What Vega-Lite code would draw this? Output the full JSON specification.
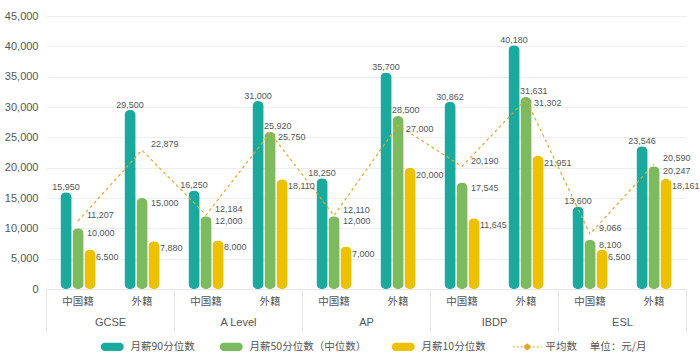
{
  "$schema": "https://vega.github.io/schema/vega-lite/v6.json",
  "width": 640,
  "height": 273,
  "autosize": {"type": "none"},
  "padding": {"left": 46, "top": 16, "right": 14, "bottom": 70},
  "background": "white",
  "config": {
    "font": "'Liberation Sans', 'Noto Sans CJK SC'",
    "numberFormat": ",d",
    "view": {"stroke": null},
    "text": {"font": "'Liberation Sans', 'Noto Sans CJK SC'", "fontSize": 9, "color": "#555555"},
    "axisY": {
      "title": null, "tickCount": 10, "domain": false, "ticks": false, "labelPadding": 8,
      "gridColor": "#eeeeee", "labelColor": "#555555", "labelFontSize": 11
    }
  },
  "data": {
    "values": [
      {"group": "GCSE", "key": "GCSE 中国籍", "p90": 15950, "p50": 10000, "p10": 6500, "avg": 11207},
      {"group": "GCSE", "key": "GCSE 外籍", "p90": 29500, "p50": 15000, "p10": 7880, "avg": 22879},
      {"group": "A Level", "key": "A Level 中国籍", "p90": 16250, "p50": 12000, "p10": 8000, "avg": 12184},
      {"group": "A Level", "key": "A Level 外籍", "p90": 31000, "p50": 25920, "p10": 18110, "avg": 25750},
      {"group": "AP", "key": "AP 中国籍", "p90": 18250, "p50": 12000, "p10": 7000, "avg": 12110},
      {"group": "AP", "key": "AP 外籍", "p90": 35700, "p50": 28500, "p10": 20000, "avg": 27000},
      {"group": "IBDP", "key": "IBDP 中国籍", "p90": 30862, "p50": 17545, "p10": 11645, "avg": 20190},
      {"group": "IBDP", "key": "IBDP 外籍", "p90": 40180, "p50": 31631, "p10": 21951, "avg": 31302},
      {"group": "ESL", "key": "ESL 中国籍", "p90": 13600, "p50": 8100, "p10": 6500, "avg": 9066},
      {"group": "ESL", "key": "ESL 外籍", "p90": 23546, "p50": 20247, "p10": 18161, "avg": 20590}
    ]
  },
  "resolve": {"scale": {"x": "independent"}, "axis": {"x": "independent"}},
  "layer": [
    {
      "mark": {"type": "rule", "opacity": 0},
      "encoding": {
        "x": {
          "field": "group", "type": "nominal", "sort": null,
          "scale": {"paddingInner": 0, "paddingOuter": 0},
          "axis": {
            "orient": "bottom", "title": null, "tickBand": "extent", "tickSize": 43,
            "tickColor": "#e6e6e6", "domainColor": "#e6e6e6", "labelPadding": -16,
            "labelAngle": 0, "labelColor": "#555555", "labelFontSize": 11, "grid": false
          }
        }
      }
    },
    {
      "layer": [
        {
          "transform": [{"fold": ["p90", "p50", "p10"], "as": ["series", "value"]}],
          "mark": {"type": "bar", "cornerRadius": 5.5},
          "encoding": {
            "x": {
              "field": "key", "type": "nominal", "sort": null,
              "scale": {"paddingInner": 0.45, "paddingOuter": 0.225},
              "axis": {
                "orient": "bottom", "title": null,
                "labelExpr": "indexof(datum.label, '中国籍') >= 0 ? '中国籍' : '外籍'",
                "ticks": false, "domain": false, "labelPadding": 7, "labelAngle": 0,
                "labelColor": "#555555", "labelFontSize": 10.5, "grid": false
              }
            },
            "xOffset": {"field": "series", "scale": {"domain": ["p90", "p50", "p10"], "paddingInner": 0.06}},
            "y": {"field": "value", "type": "quantitative", "scale": {"domain": [0, 45000]}},
            "color": {
              "field": "series", "type": "nominal",
              "scale": {"domain": ["p90", "p50", "p10", "avg"], "range": ["#19aa9e", "#7cb95f", "#ecc104", "#dfab2c"]},
              "legend": {
                "orient": "none", "legendX": 61, "legendY": 325.5, "padding": 0,
                "direction": "horizontal", "title": null,
                "labelExpr": "datum.value == 'p90' ? '月薪90分位数' : datum.value == 'p50' ? '月薪50分位数（中位数）' : datum.value == 'p10' ? '月薪10分位数' : '平均数　 单位：元/月'",
                "symbolSize": 841, "labelFontSize": 10.5, "labelColor": "#555555",
                "labelFont": "'Noto Sans CJK SC'",
                "columnPadding": 24, "labelOffset": 13,
                "encode": {
                  "symbols": {
                    "update": {
                      "shape": {"signal": "datum.value == 'avg' ? 'M-1,0L1,0M0.2,0A0.2,0.2 0 1 1 -0.2,0A0.2,0.2 0 1 1 0.2,0Z' : 'M-0.517,-0.276L0.517,-0.276A0.276,0.276 0 0 1 0.517,0.276L-0.517,0.276A0.276,0.276 0 0 1 -0.517,-0.276Z'"},
                      "fill": {"scale": "color", "field": "value"},
                      "stroke": {"scale": "color", "field": "value"},
                      "strokeWidth": {"signal": "datum.value == 'avg' ? 1 : 0"},
                      "strokeDash": {"signal": "datum.value == 'avg' ? [2, 2] : [1, 0]"},
                      "opacity": {"value": 1}
                    }
                  }
                }
              }
            }
          }
        },
        {
          "mark": {"type": "line", "strokeDash": [3, 3], "strokeWidth": 1.2},
          "encoding": {
            "x": {"field": "key", "type": "nominal", "sort": null},
            "y": {"field": "avg", "type": "quantitative"},
            "color": {"datum": "avg"}
          }
        },
        {
          "mark": {"type": "text", "align": "center", "baseline": "alphabetic", "dy": -2},
          "encoding": {
            "x": {"field": "key", "type": "nominal", "sort": null},
            "xOffset": {"datum": "p90"},
            "y": {"field": "p90", "type": "quantitative"},
            "text": {"field": "p90", "type": "quantitative", "format": ","}
          }
        },
        {
          "mark": {"type": "text", "align": "left", "baseline": "middle", "dx": 6, "dy": 7},
          "encoding": {
            "x": {"field": "key", "type": "nominal", "sort": null},
            "xOffset": {"datum": "p10"},
            "y": {"field": "p10", "type": "quantitative"},
            "text": {"field": "p10", "type": "quantitative", "format": ","}
          }
        },
        {
          "transform": [{"filter": "datum.avg >= datum.p50"}],
          "mark": {"type": "text", "align": "left", "baseline": "middle", "dx": 9, "dy": 5},
          "encoding": {
            "x": {"field": "key", "type": "nominal", "sort": null},
            "xOffset": {"datum": "p50"},
            "y": {"field": "p50", "type": "quantitative"},
            "text": {"field": "p50", "type": "quantitative", "format": ","}
          }
        },
        {
          "transform": [{"filter": "datum.avg >= datum.p50"}],
          "mark": {"type": "text", "align": "left", "baseline": "middle", "dx": 9, "dy": -6},
          "encoding": {
            "x": {"field": "key", "type": "nominal", "sort": null},
            "y": {"field": "avg", "type": "quantitative"},
            "text": {"field": "avg", "type": "quantitative", "format": ","}
          }
        },
        {
          "transform": [{"filter": "datum.avg < datum.p50"}],
          "mark": {"type": "text", "align": "left", "baseline": "middle", "dx": -6, "dy": -6},
          "encoding": {
            "x": {"field": "key", "type": "nominal", "sort": null},
            "xOffset": {"datum": "p50"},
            "y": {"field": "p50", "type": "quantitative"},
            "text": {"field": "p50", "type": "quantitative", "format": ","}
          }
        },
        {
          "transform": [{"filter": "datum.avg < datum.p50"}],
          "mark": {"type": "text", "align": "left", "baseline": "middle", "dx": 8, "dy": 4},
          "encoding": {
            "x": {"field": "key", "type": "nominal", "sort": null},
            "y": {"field": "avg", "type": "quantitative"},
            "text": {"field": "avg", "type": "quantitative", "format": ","}
          }
        }
      ]
    }
  ]
}
